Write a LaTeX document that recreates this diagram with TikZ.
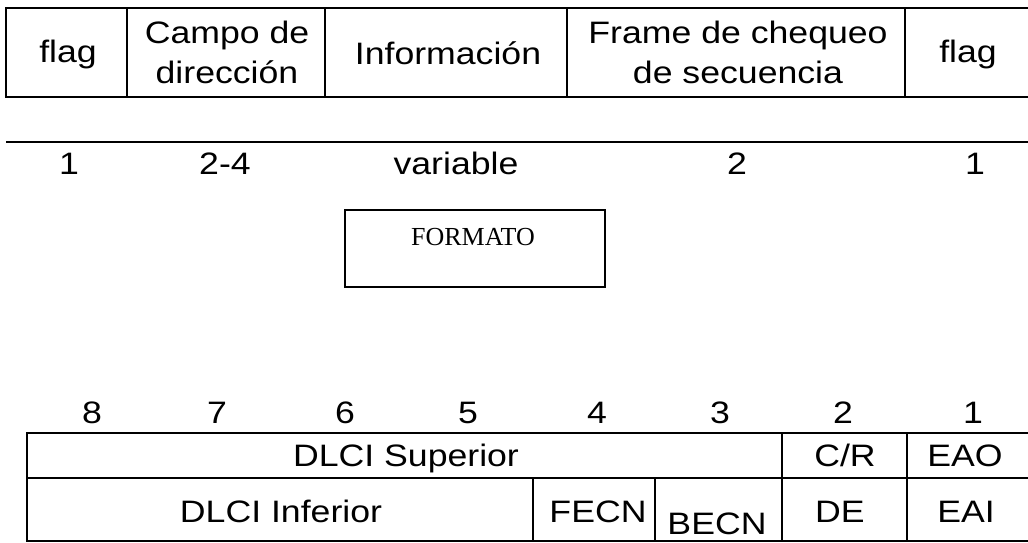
\documentclass[tikz,border=0pt]{standalone}
\usepackage{fontspec}
\setmainfont{Liberation Sans}[FakeStretch=1.15]
\newfontfamily\serifA{Liberation Serif}
\begin{document}
\begin{tikzpicture}[x=1pt,y=-1pt,line width=2pt,
  lbl/.style={font=\fontsize{31}{38}\selectfont,anchor=base,inner sep=0pt},
  fmt/.style={font=\serifA\fontsize{26}{30}\selectfont,anchor=base,inner sep=0pt}]
\useasboundingbox (0,0) rectangle (1028,543);
% top frame table
\draw (1028,8) -- (6,8) -- (6,97) -- (1028,97);
\foreach \x in {127,325,567,905} \draw (\x,8) -- (\x,97);
\node[lbl] (flagA) at (68,63) {flag};
\node[lbl] (campo1) at (227,43.5) {Campo de};
\node[lbl] (campo2) at (227,83.5) {dirección};
\node[lbl] (info) at (448,64) {Información};
\node[lbl] (frame1) at (738,43.5) {Frame de chequeo};
\node[lbl] (frame2) at (738,83.5) {de secuencia};
\node[lbl] (flagB) at (968,63) {flag};
% size line
\draw (6,142) -- (1028,142);
\node[lbl] (n1) at (69,174) {1};
\node[lbl] (n24) at (225,174) {2-4};
\node[lbl] (nvar) at (456,174) {variable};
\node[lbl] (n2) at (737,174) {2};
\node[lbl] (n1b) at (975,174) {1};
% FORMATO box
\draw[line width=1.5pt] (345,210) rectangle (605,287);
\node[fmt] (formato) at (473,245) {FORMATO};
% bit numbers
\node[lbl] (b8) at (92,423) {8};
\node[lbl] (b7) at (217,423) {7};
\node[lbl] (b6) at (345,423) {6};
\node[lbl] (b5) at (468,423) {5};
\node[lbl] (b4) at (597,423) {4};
\node[lbl] (b3) at (720,423) {3};
\node[lbl] (b2) at (843,423) {2};
\node[lbl] (b1) at (973,423) {1};
% address field table
\draw (1028,433) -- (27,433) -- (27,541) -- (1028,541);
\draw (27,478) -- (1028,478);
\draw (782,433) -- (782,541);
\draw (907,433) -- (907,541);
\draw (533,478) -- (533,541);
\draw (655,478) -- (655,541);
\node[lbl] (dsup) at (406,466) {DLCI Superior};
\node[lbl] (cr) at (845,466) {C/R};
\node[lbl] (eao) at (965,466) {EAO};
\node[lbl] (dinf) at (281,522) {DLCI Inferior};
\node[lbl] (fecn) at (598,522) {FECN};
\node[lbl] (becn) at (717,534) {BECN};
\node[lbl] (de) at (840,522) {DE};
\node[lbl] (eai) at (966,522) {EAI};
\end{tikzpicture}
\end{document}
